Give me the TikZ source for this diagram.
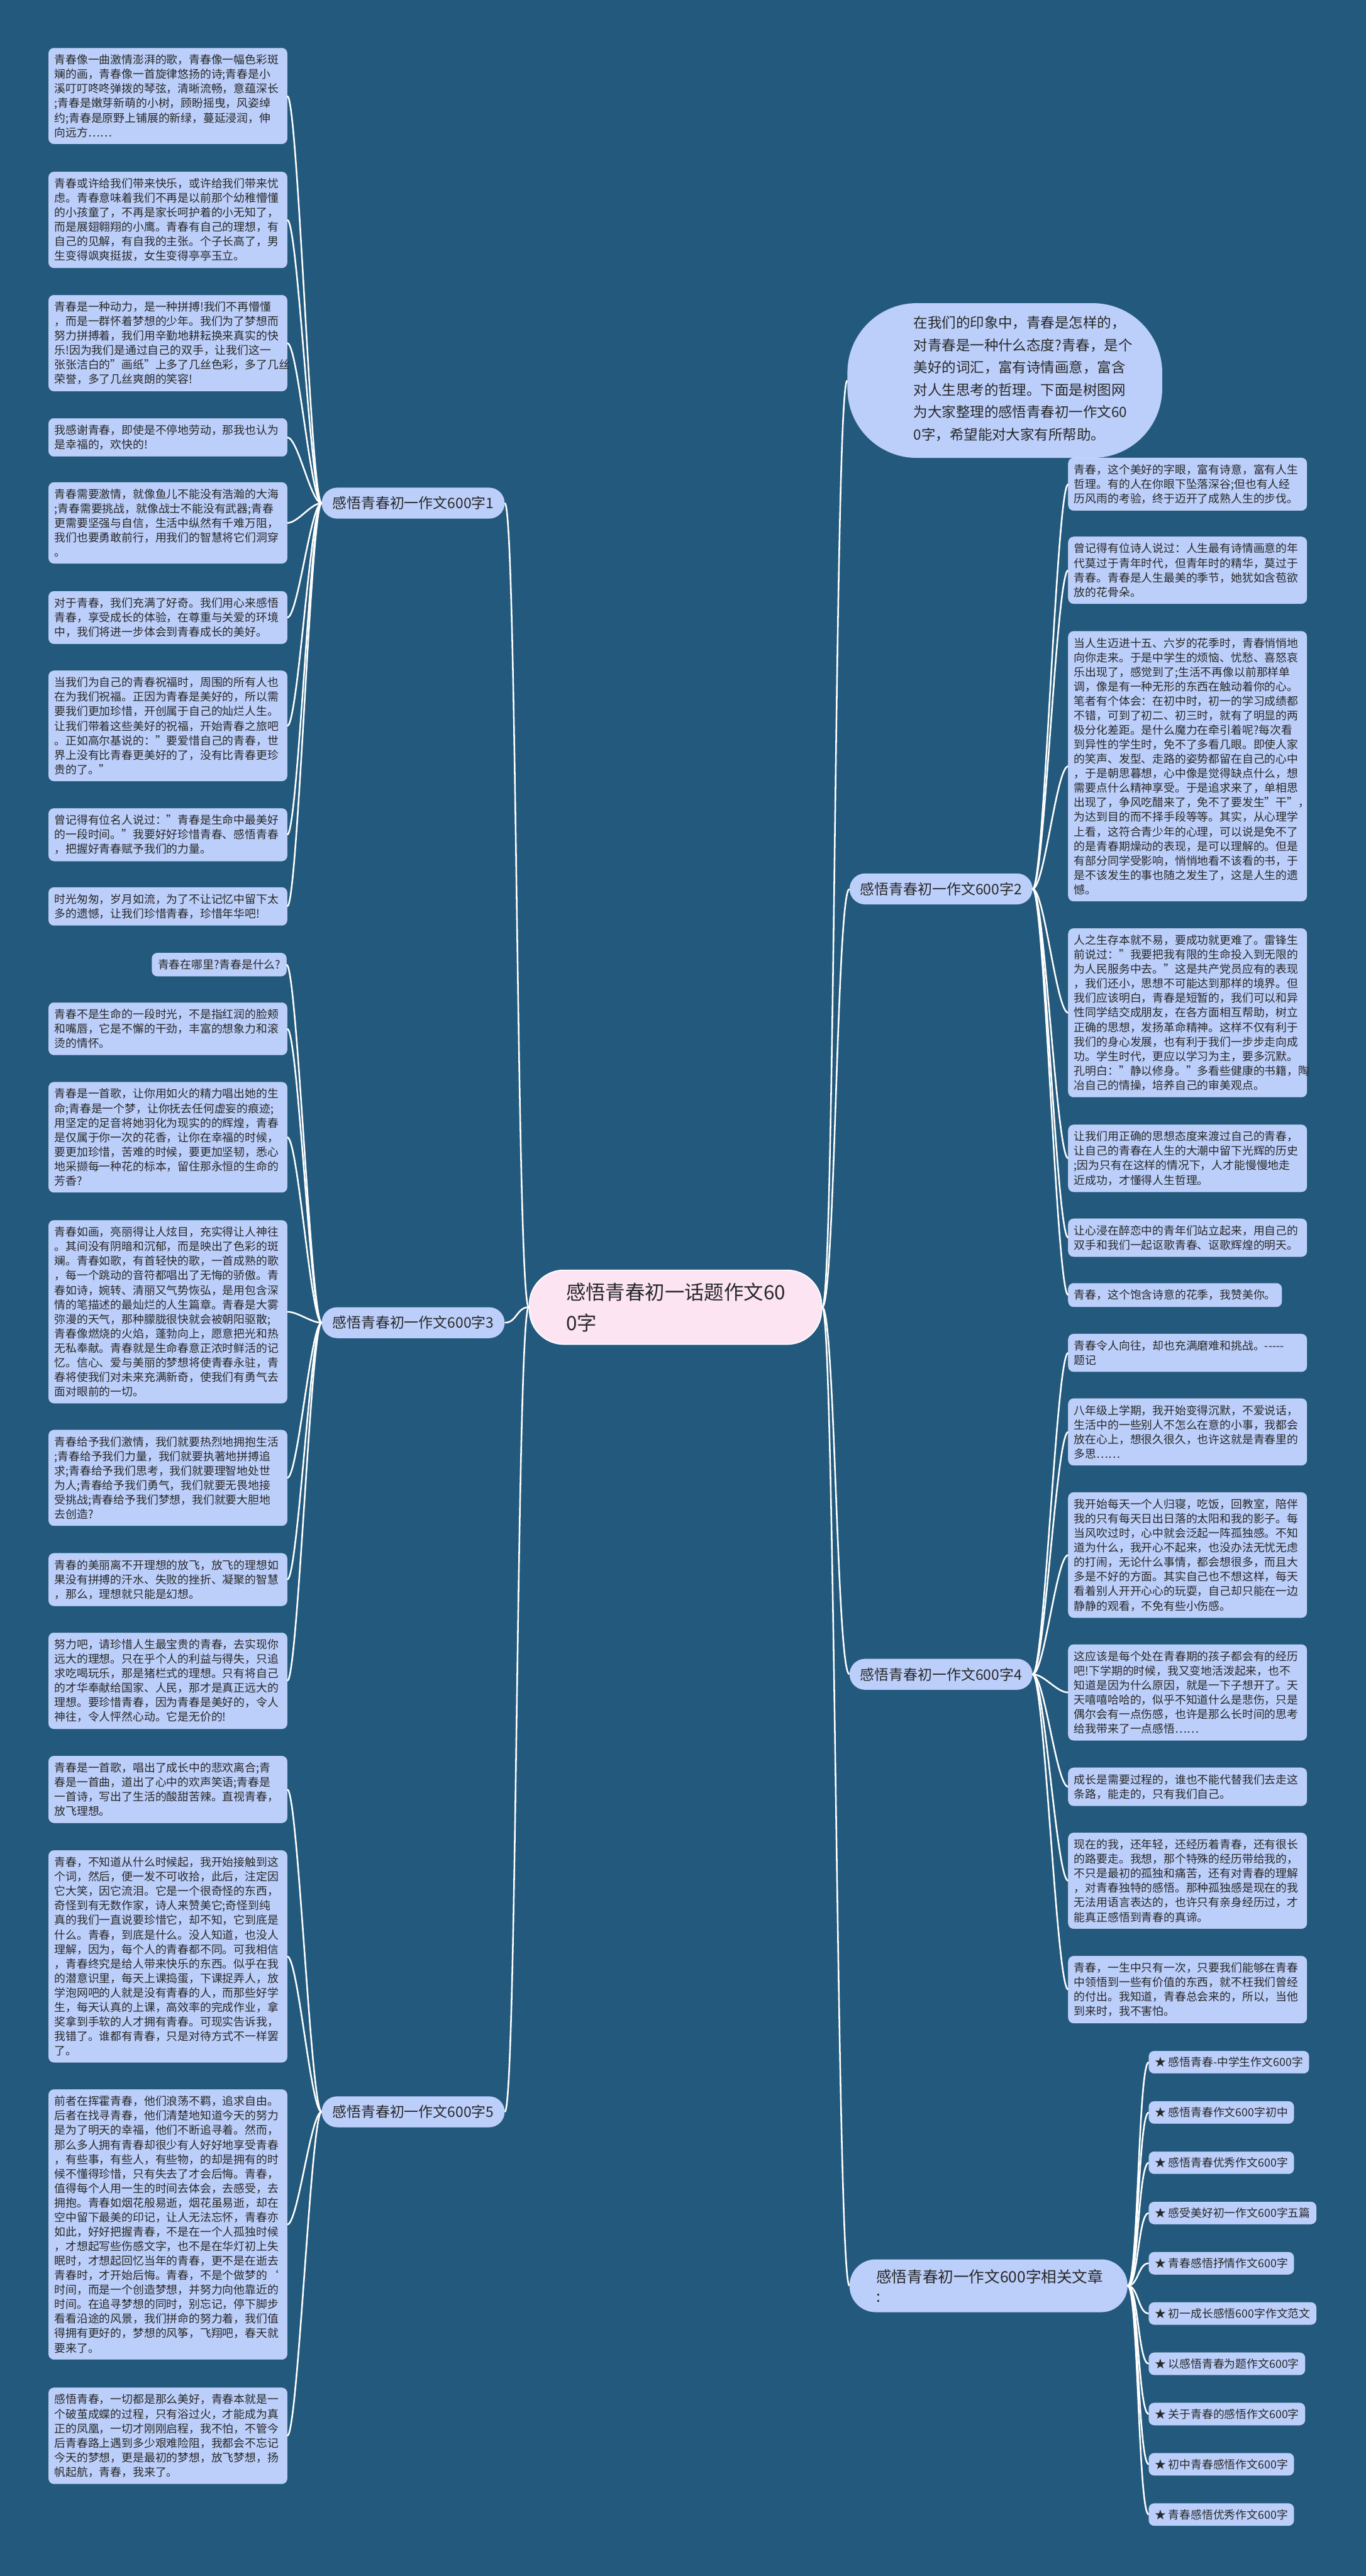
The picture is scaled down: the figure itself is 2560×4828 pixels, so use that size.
\documentclass[tikz,border=0pt]{standalone}
\usepackage{fontspec}
\setmainfont{Noto Sans CJK SC}
\usepackage{tikz}
\definecolor{bgblue}{RGB}{35,89,124}
\definecolor{leafblue}{RGB}{188,207,250}
\definecolor{rootpink}{RGB}{252,228,243}
\definecolor{inkgray}{RGB}{40,40,40}

\begin{document}
\begin{tikzpicture}[x=1pt,y=-1pt,
  leaf/.style={fill=leafblue,draw=leafblue!60!white,rounded corners=10pt,text=inkgray,align=left,inner xsep=11pt,inner ysep=12pt,font=\fontsize{21}{27.2}\selectfont},
  wide/.style={leaf,text width=425pt,anchor=north west},
  branch/.style={fill=leafblue,rounded corners=29pt,minimum height=58pt,inner xsep=20pt,text=inkgray,font=\fontsize{27}{32}\selectfont},
  link/.style={draw=white,line width=3pt}]
\fill[bgblue] (0,0) rectangle (2560,4828);
\useasboundingbox (0,0) rectangle (2560,4828);

% centre
\node [fill=rootpink,draw=white,line width=2pt,rounded corners=65pt,minimum height=139pt,text width=410pt,inner xsep=69pt,align=left,text=inkgray,font=\fontsize{37}{58}\selectfont] (root) at (1266,2450) {感悟青春初一话题作文60\\0字};

% intro
\node [fill=leafblue,rounded corners=130pt,minimum width=590pt,minimum height=290pt,anchor=north west] (intro) at (1588,568) {};
\node [anchor=north west,inner sep=0pt,align=left,text=inkgray,font=\fontsize{26.5}{42}\selectfont] (introtext) at (1712,592) {在我们的印象中，青春是怎样的，\\对青春是一种什么态度?青春，是个\\美好的词汇，富有诗情画意，富含\\对人生思考的哲理。下面是树图网\\为大家整理的感悟青春初一作文60\\0字，希望能对大家有所帮助。};

% branches
\node [branch,anchor=east] (br1) at (946,943) {感悟青春初一作文600字1};
\node [branch,anchor=east] (br3) at (946,2479) {感悟青春初一作文600字3};
\node [branch,anchor=east] (br5) at (946,3958) {感悟青春初一作文600字5};
\node [branch,anchor=west] (br2) at (1592,1666) {感悟青春初一作文600字2};
\node [branch,anchor=west] (br4) at (1592,3138) {感悟青春初一作文600字4};
\node [branch,anchor=west,rounded corners=49pt,minimum height=99pt,text width=421pt,inner xsep=50pt,align=left,font=\fontsize{29}{36}\selectfont] (rel) at (1592,4284) {感悟青春初一作文600字相关文章\\:};

% left leaves
\node [wide] (b1) at (91,90) {青春像一曲激情澎湃的歌，青春像一幅色彩斑\\斓的画，青春像一首旋律悠扬的诗;青春是小\\溪叮叮咚咚弹拨的琴弦，清晰流畅，意蕴深长\\;青春是嫩芽新萌的小树，顾盼摇曳，风姿绰\\约;青春是原野上铺展的新绿，蔓延浸润，伸\\向远方……};
\node [wide] (b2) at (91,322) {青春或许给我们带来快乐，或许给我们带来忧\\虑。青春意味着我们不再是以前那个幼稚懵懂\\的小孩童了，不再是家长呵护着的小无知了，\\而是展翅翱翔的小鹰。青春有自己的理想，有\\自己的见解，有自我的主张。个子长高了，男\\生变得飒爽挺拔，女生变得亭亭玉立。};
\node [wide] (b3) at (91,553) {青春是一种动力，是一种拼搏!我们不再懵懂\\，而是一群怀着梦想的少年。我们为了梦想而\\努力拼搏着，我们用辛勤地耕耘换来真实的快\\乐!因为我们是通过自己的双手，让我们这一\\张张洁白的"画纸"上多了几丝色彩，多了几丝\\荣誉，多了几丝爽朗的笑容!};
\node [wide] (b4) at (91,784) {我感谢青春，即使是不停地劳动，那我也认为\\是幸福的，欢快的!};
\node [wide] (b5) at (91,904) {青春需要激情，就像鱼儿不能没有浩瀚的大海\\;青春需要挑战，就像战士不能没有武器;青春\\更需要坚强与自信，生活中纵然有千难万阻，\\我们也要勇敢前行，用我们的智慧将它们洞穿\\。};
\node [wide] (b6) at (91,1108) {对于青春，我们充满了好奇。我们用心来感悟\\青春，享受成长的体验，在尊重与关爱的环境\\中，我们将进一步体会到青春成长的美好。};
\node [wide] (b7) at (91,1257) {当我们为自己的青春祝福时，周围的所有人也\\在为我们祝福。正因为青春是美好的，所以需\\要我们更加珍惜，开创属于自己的灿烂人生。\\让我们带着这些美好的祝福，开始青春之旅吧\\。正如高尔基说的："要爱惜自己的青春，世\\界上没有比青春更美好的了，没有比青春更珍\\贵的了。"};
\node [wide] (b8) at (91,1515) {曾记得有位名人说过："青春是生命中最美好\\的一段时间。"我要好好珍惜青春、感悟青春\\，把握好青春赋予我们的力量。};
\node [wide] (b9) at (91,1663) {时光匆匆，岁月如流，为了不让记忆中留下太\\多的遗憾，让我们珍惜青春，珍惜年华吧!};
\node [leaf,anchor=north east] (b10) at (537,1786) {青春在哪里?青春是什么?};
\node [wide] (b11) at (91,1879) {青春不是生命的一段时光，不是指红润的脸颊\\和嘴唇，它是不懈的干劲，丰富的想象力和滚\\烫的情怀。};
\node [wide] (b12) at (91,2028) {青春是一首歌，让你用如火的精力唱出她的生\\命;青春是一个梦，让你抚去任何虚妄的痕迹;\\用坚定的足音将她羽化为现实的的辉煌，青春\\是仅属于你一次的花香，让你在幸福的时候，\\要更加珍惜，苦难的时候，要更加坚韧，悉心\\地采撷每一种花的标本，留住那永恒的生命的\\芳香?};
\node [wide] (b13) at (91,2287) {青春如画，亮丽得让人炫目，充实得让人神往\\。其间没有阴暗和沉郁，而是映出了色彩的斑\\斓。青春如歌，有首轻快的歌，一首成熟的歌\\，每一个跳动的音符都唱出了无悔的骄傲。青\\春如诗，婉转、清丽又气势恢弘，是用包含深\\情的笔描述的最灿烂的人生篇章。青春是大雾\\弥漫的天气，那种朦胧很快就会被朝阳驱散;\\青春像燃烧的火焰，蓬勃向上，愿意把光和热\\无私奉献。青春就是生命春意正浓时鲜活的记\\忆。信心、爱与美丽的梦想将使青春永驻，青\\春将使我们对未来充满新奇，使我们有勇气去\\面对眼前的一切。};
\node [wide] (b14) at (91,2680) {青春给予我们激情，我们就要热烈地拥抱生活\\;青春给予我们力量，我们就要执著地拼搏追\\求;青春给予我们思考，我们就要理智地处世\\为人;青春给予我们勇气，我们就要无畏地接\\受挑战;青春给予我们梦想，我们就要大胆地\\去创造?};
\node [wide] (b15) at (91,2911) {青春的美丽离不开理想的放飞，放飞的理想如\\果没有拼搏的汗水、失败的挫折、凝聚的智慧\\，那么，理想就只能是幻想。};
\node [wide] (b16) at (91,3060) {努力吧，请珍惜人生最宝贵的青春，去实现你\\远大的理想。只在乎个人的利益与得失，只追\\求吃喝玩乐，那是猪栏式的理想。只有将自己\\的才华奉献给国家、人民，那才是真正远大的\\理想。要珍惜青春，因为青春是美好的，令人\\神往，令人怦然心动。它是无价的!};
\node [wide] (b17) at (91,3291) {青春是一首歌，唱出了成长中的悲欢离合;青\\春是一首曲，道出了心中的欢声笑语;青春是\\一首诗，写出了生活的酸甜苦辣。直视青春，\\放飞理想。};
\node [wide] (b18) at (91,3468) {青春，不知道从什么时候起，我开始接触到这\\个词，然后，便一发不可收拾，此后，注定因\\它大笑，因它流泪。它是一个很奇怪的东西，\\奇怪到有无数作家，诗人来赞美它;奇怪到纯\\真的我们一直说要珍惜它，却不知，它到底是\\什么。青春，到底是什么。没人知道，也没人\\理解，因为，每个人的青春都不同。可我相信\\，青春终究是给人带来快乐的东西。似乎在我\\的潜意识里，每天上课捣蛋，下课捉弄人，放\\学泡网吧的人就是没有青春的人，而那些好学\\生，每天认真的上课，高效率的完成作业，拿\\奖拿到手软的人才拥有青春。可现实告诉我，\\我错了。谁都有青春，只是对待方式不一样罢\\了。};
\node [wide] (b19) at (91,3916) {前者在挥霍青春，他们浪荡不羁，追求自由。\\后者在找寻青春，他们清楚地知道今天的努力\\是为了明天的幸福，他们不断追寻着。然而，\\那么多人拥有青春却很少有人好好地享受青春\\，有些事，有些人，有些物，的却是拥有的时\\候不懂得珍惜，只有失去了才会后悔。青春，\\值得每个人用一生的时间去体会，去感受，去\\拥抱。青春如烟花般易逝，烟花虽易逝，却在\\空中留下最美的印记，让人无法忘怀，青春亦\\如此，好好把握青春，不是在一个人孤独时候\\，才想起写些伤感文字，也不是在华灯初上失\\眠时，才想起回忆当年的青春，更不是在逝去\\青春时，才开始后悔。青春，不是个做梦的`\\时间，而是一个创造梦想，并努力向他靠近的\\时间。在追寻梦想的同时，别忘记，停下脚步\\看看沿途的风景，我们拼命的努力着，我们值\\得拥有更好的，梦想的风筝，飞翔吧，春天就\\要来了。};
\node [wide] (b20) at (91,4475) {感悟青春，一切都是那么美好，青春本就是一\\个破茧成蝶的过程，只有浴过火，才能成为真\\正的凤凰，一切才刚刚启程，我不怕，不管今\\后青春路上遇到多少艰难险阻，我都会不忘记\\今天的梦想，更是最初的梦想，放飞梦想，扬\\帆起航，青春，我来了。};

% right leaves
\node [wide] (r1) at (2002,858) {青春，这个美好的字眼，富有诗意，富有人生\\哲理。有的人在你眼下坠落深谷;但也有人经\\历风雨的考验，终于迈开了成熟人生的步伐。};
\node [wide] (r2) at (2002,1006) {曾记得有位诗人说过：人生最有诗情画意的年\\代莫过于青年时代，但青年时的精华，莫过于\\青春。青春是人生最美的季节，她犹如含苞欲\\放的花骨朵。};
\node [wide] (r3) at (2002,1183) {当人生迈进十五、六岁的花季时，青春悄悄地\\向你走来。于是中学生的烦恼、忧愁、喜怒哀\\乐出现了，感觉到了;生活不再像以前那样单\\调，像是有一种无形的东西在触动着你的心。\\笔者有个体会：在初中时，初一的学习成绩都\\不错，可到了初二、初三时，就有了明显的两\\极分化差距。是什么魔力在牵引着呢?每次看\\到异性的学生时，免不了多看几眼。即使人家\\的笑声、发型、走路的姿势都留在自己的心中\\，于是朝思暮想，心中像是觉得缺点什么，想\\需要点什么精神享受。于是追求来了，单相思\\出现了，争风吃醋来了，免不了要发生"干"，\\为达到目的而不择手段等等。其实，从心理学\\上看，这符合青少年的心理，可以说是免不了\\的是青春期燥动的表现，是可以理解的。但是\\有部分同学受影响，悄悄地看不该看的书，于\\是不该发生的事也随之发生了，这是人生的遗\\憾。};
\node [wide] (r4) at (2002,1740) {人之生存本就不易，要成功就更难了。雷锋生\\前说过："我要把我有限的生命投入到无限的\\为人民服务中去。"这是共产党员应有的表现\\，我们还小，思想不可能达到那样的境界。但\\我们应该明白，青春是短暂的，我们可以和异\\性同学结交成朋友，在各方面相互帮助，树立\\正确的思想，发扬革命精神。这样不仅有利于\\我们的身心发展，也有利于我们一步步走向成\\功。学生时代，更应以学习为主，要多沉默。\\孔明白："静以修身。"多看些健康的书籍，陶\\冶自己的情操，培养自己的审美观点。};
\node [wide] (r5) at (2002,2108) {让我们用正确的思想态度来渡过自己的青春，\\让自己的青春在人生的大潮中留下光辉的历史\\;因为只有在这样的情况下，人才能慢慢地走\\近成功，才懂得人生哲理。};
\node [wide] (r6) at (2002,2284) {让心浸在醉恋中的青年们站立起来，用自己的\\双手和我们一起讴歌青春、讴歌辉煌的明天。};
\node [leaf,anchor=north west] (r7) at (2002,2405) {青春，这个饱含诗意的花季，我赞美你。};
\node [wide] (r8) at (2002,2500) {青春令人向往，却也充满磨难和挑战。-{}-{}-{}-{}-\\题记};
\node [wide] (r9) at (2002,2621) {八年级上学期，我开始变得沉默，不爱说话，\\生活中的一些别人不怎么在意的小事，我都会\\放在心上，想很久很久，也许这就是青春里的\\多思……};
\node [wide] (r10) at (2002,2797) {我开始每天一个人归寝，吃饭，回教室，陪伴\\我的只有每天日出日落的太阳和我的影子。每\\当风吹过时，心中就会泛起一阵孤独感。不知\\道为什么，我开心不起来，也没办法无忧无虑\\的打闹，无论什么事情，都会想很多，而且大\\多是不好的方面。其实自己也不想这样，每天\\看着别人开开心心的玩耍，自己却只能在一边\\静静的观看，不免有些小伤感。};
\node [wide] (r11) at (2002,3082) {这应该是每个处在青春期的孩子都会有的经历\\吧!下学期的时候，我又变地活泼起来，也不\\知道是因为什么原因，就是一下子想开了。天\\天嘻嘻哈哈的，似乎不知道什么是悲伤，只是\\偶尔会有一点伤感，也许是那么长时间的思考\\给我带来了一点感悟……};
\node [wide] (r12) at (2002,3313) {成长是需要过程的，谁也不能代替我们去走这\\条路，能走的，只有我们自己。};
\node [wide] (r13) at (2002,3435) {现在的我，还年轻，还经历着青春，还有很长\\的路要走。我想，那个特殊的经历带给我的，\\不只是最初的孤独和痛苦，还有对青春的理解\\，对青春独特的感悟。那种孤独感是现在的我\\无法用语言表达的，也许只有亲身经历过，才\\能真正感悟到青春的真谛。};
\node [wide] (r14) at (2002,3666) {青春，一生中只有一次，只要我们能够在青春\\中领悟到一些有价值的东西，就不枉我们曾经\\的付出。我知道，青春总会来的，所以，当他\\到来时，我不害怕。};

% related articles
\foreach \t [count=\i] in {感悟青春-中学生作文600字,感悟青春作文600字初中,感悟青春优秀作文600字,感受美好初一作文600字五篇,青春感悟抒情作文600字,初一成长感悟600字作文范文,以感悟青春为题作文600字,关于青春的感悟作文600字,初中青春感悟作文600字,青春感悟优秀作文600字}
  \node [leaf,anchor=west,inner ysep=11pt] (l\i) at (2153,{3865+94.2*(\i-1)}) {★ \t};

% links
\foreach \n in {br1,br3,br5} \draw[link] (root.west) .. controls +(-23,0) and +(23,0) .. (\n.east);
\foreach \n in {intro,br2,br4,rel} \draw[link] (root.east) .. controls +(24,0) and +(-24,0) .. (\n.west);
\foreach \n in {1,...,9} \draw[link] (br1.west) .. controls +(-20,0) and +(20,0) .. (b\n.east);
\foreach \n in {10,...,16} \draw[link] (br3.west) .. controls +(-20,0) and +(20,0) .. (b\n.east);
\foreach \n in {17,...,20} \draw[link] (br5.west) .. controls +(-20,0) and +(20,0) .. (b\n.east);
\foreach \n in {1,...,7} \draw[link] (br2.east) .. controls +(22,0) and +(-22,0) .. (r\n.west);
\foreach \n in {8,...,14} \draw[link] (br4.east) .. controls +(22,0) and +(-22,0) .. (r\n.west);
\foreach \n in {1,...,10} \draw[link] (rel.east) .. controls +(20,0) and +(-20,0) .. (l\n.west);
\end{tikzpicture}
\end{document}
